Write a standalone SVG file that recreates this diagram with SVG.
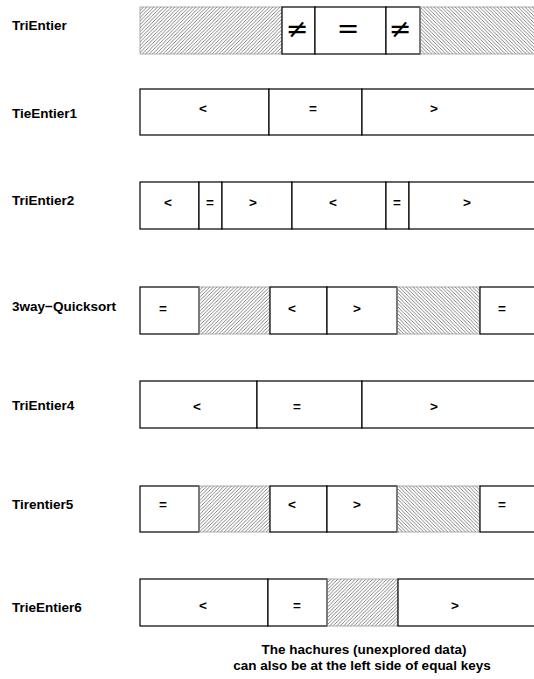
<svg xmlns="http://www.w3.org/2000/svg" width="534" height="679" viewBox="0 0 534 679">
<defs>
<pattern id="hf" patternUnits="userSpaceOnUse" width="3.5" height="3.5">
<path d="M-1,1 L1,-1 M0,3.5 L3.5,0 M2.5,4.5 L4.5,2.5" stroke="#666" stroke-width="0.8"/>
</pattern>
<pattern id="hb" patternUnits="userSpaceOnUse" width="3.5" height="3.5">
<path d="M-1,2.5 L1,4.5 M0,0 L3.5,3.5 M2.5,-1 L4.5,1" stroke="#666" stroke-width="0.8"/>
</pattern>
</defs>
<style>
.c{fill:#fff;stroke:#000;stroke-width:1.2}
.hf{fill:url(#hf);stroke:#999;stroke-width:0.8}
.hb{fill:url(#hb);stroke:#999;stroke-width:0.8}
.lbl{font-family:"Liberation Sans",Arial,sans-serif;font-weight:bold;font-size:13.5px;fill:#000}
.t{font-family:"Liberation Sans",Arial,sans-serif;font-weight:bold;font-size:13.5px;fill:#000;text-anchor:middle}
.m{font-family:"DejaVu Serif","Liberation Serif",serif;font-size:27px;fill:#000;text-anchor:middle}
.note{font-family:"Liberation Sans",Arial,sans-serif;font-weight:bold;font-size:13.5px;fill:#000;text-anchor:middle}
</style>
<rect width="534" height="679" fill="#fff"/>

<g id="row-TriEntier">
<text class="lbl" x="12" y="30">TriEntier</text>
<rect class="hf" x="140" y="7" width="142" height="47"/>
<rect class="c" x="282" y="7" width="33" height="47"/>
<rect class="c" x="315" y="7" width="71" height="47"/>
<rect class="c" x="386" y="7" width="34" height="47"/>
<rect class="hb" x="420" y="7" width="120" height="47"/>
<text class="m" x="297" y="38">≠</text>
<text class="m" x="348" y="38">=</text>
<text class="m" x="400" y="38">≠</text>
</g>

<g id="row-TieEntier1">
<text class="lbl" x="12" y="118">TieEntier1</text>
<rect class="c" x="140" y="89" width="129" height="46"/>
<rect class="c" x="269" y="89" width="93" height="46"/>
<rect class="c" x="362" y="89" width="180" height="46"/>
<text class="t" x="203" y="113">&lt;</text>
<text class="t" x="313" y="113">=</text>
<text class="t" x="434" y="113">&gt;</text>
</g>

<g id="row-TriEntier2">
<text class="lbl" x="12" y="205">TriEntier2</text>
<rect class="c" x="140" y="182" width="59" height="47"/>
<rect class="c" x="199" y="182" width="23" height="47"/>
<rect class="c" x="222" y="182" width="70" height="47"/>
<rect class="c" x="292" y="182" width="94" height="47"/>
<rect class="c" x="386" y="182" width="23" height="47"/>
<rect class="c" x="409" y="182" width="133" height="47"/>
<text class="t" x="168" y="207">&lt;</text>
<text class="t" x="210" y="207">=</text>
<text class="t" x="253" y="207">&gt;</text>
<text class="t" x="333" y="207">&lt;</text>
<text class="t" x="397" y="207">=</text>
<text class="t" x="467" y="207">&gt;</text>
</g>

<g id="row-3way-Quicksort">
<text class="lbl" x="12" y="311">3way−Quicksort</text>
<rect class="c" x="140" y="287" width="59" height="47"/>
<rect class="hf" x="199" y="287" width="71" height="47"/>
<rect class="c" x="270" y="287" width="57" height="47"/>
<rect class="c" x="327" y="287" width="70" height="47"/>
<rect class="hb" x="397" y="287" width="83" height="47"/>
<rect class="c" x="480" y="287" width="62" height="47"/>
<text class="t" x="163" y="313">=</text>
<text class="t" x="292" y="313">&lt;</text>
<text class="t" x="357" y="313">&gt;</text>
<text class="t" x="502" y="313">=</text>
</g>

<g id="row-TriEntier4">
<text class="lbl" x="12" y="410">TriEntier4</text>
<rect class="c" x="140" y="381" width="117" height="47"/>
<rect class="c" x="257" y="381" width="105" height="47"/>
<rect class="c" x="362" y="381" width="180" height="47"/>
<text class="t" x="197" y="411">&lt;</text>
<text class="t" x="297" y="411">=</text>
<text class="t" x="434" y="411">&gt;</text>
</g>

<g id="row-Tirentier5">
<text class="lbl" x="12" y="509">Tirentier5</text>
<rect class="c" x="140" y="486" width="59" height="46"/>
<rect class="hf" x="199" y="486" width="71" height="46"/>
<rect class="c" x="270" y="486" width="57" height="46"/>
<rect class="c" x="327" y="486" width="70" height="46"/>
<rect class="hb" x="397" y="486" width="83" height="46"/>
<rect class="c" x="480" y="486" width="62" height="46"/>
<text class="t" x="163" y="509">=</text>
<text class="t" x="292" y="509">&lt;</text>
<text class="t" x="357" y="509">&gt;</text>
<text class="t" x="502" y="509">=</text>
</g>

<g id="row-TrieEntier6">
<text class="lbl" x="12" y="612">TrieEntier6</text>
<rect class="c" x="140" y="579" width="128" height="47"/>
<rect class="c" x="268" y="579" width="59" height="47"/>
<rect class="hf" x="327" y="579" width="71" height="47"/>
<rect class="c" x="398" y="579" width="144" height="47"/>
<text class="t" x="203" y="610">&lt;</text>
<text class="t" x="297" y="610">=</text>
<text class="t" x="455" y="610">&gt;</text>
</g>

<g id="note">
<text class="note" x="364" y="654">The hachures (unexplored data)</text>
<text class="note" x="362" y="670">can also be at the left side of equal keys</text>
</g>
</svg>
